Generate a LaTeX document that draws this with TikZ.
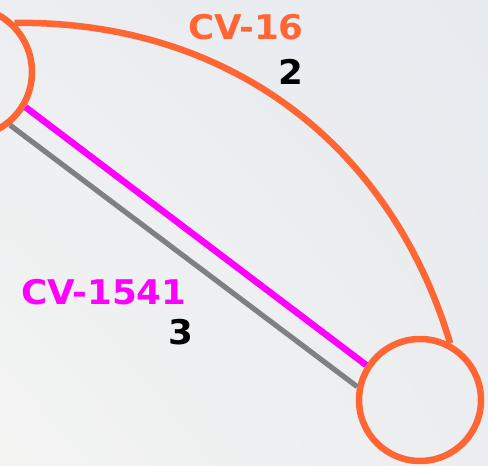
\documentclass[tikz,border=0pt]{standalone}
\usepackage{fontspec}
\newfontfamily\cvfont[FakeStretch=1.05]{DejaVu Sans}
\usetikzlibrary{shadings}

\definecolor{cvorange}{RGB}{255,102,51}
\definecolor{cvmagenta}{RGB}{255,0,255}
\definecolor{cvgray}{RGB}{128,128,128}
\definecolor{bgul}{RGB}{236,238,241}
\definecolor{bgur}{RGB}{231,234,239}
\definecolor{bgll}{RGB}{243,244,242}
\definecolor{bglr}{RGB}{235,237,240}

\begin{document}
\begin{tikzpicture}[x=1pt, y=1pt,
    station/.style={circle, draw=cvorange, line width=\w, inner sep=0pt, minimum size=#1},
    cvlabel/.style={font=\cvfont\bfseries\fontsize{34}{40}\selectfont, inner sep=0pt}]
    \def\w{6.5pt}
    \useasboundingbox (0,0) rectangle (488,466);
    \clip (0,0) rectangle (488,466);
    \shade[upper left=bgul, upper right=bgur, lower left=bgll, lower right=bglr] (0,0) rectangle (488,466);

    % the two stations
    \node[station=130pt] (west) at (-33,394) {};
    \node[station=122pt] (east) at (420,66) {};

    % routes
    \draw[cvorange, line width=\w] (west.46) to[bend left=37] (east.62);
    \draw[cvmagenta, line width=\w] (west.-31) -- (east.147);
    \draw[cvgray, line width=0.8*\w] (west.-51) -- (east.168);

    % labels
    \node[cvlabel, cvorange, anchor=base east] (cv16) at (304,426) {CV-16};
    \node[cvlabel, anchor=base east] (n2) at (304,381) {2};
    \node[cvlabel, cvmagenta, anchor=base west] (cv1541) at (21,161) {CV-1541};
    \node[cvlabel, anchor=base east] (n3) at (194,121) {3};
\end{tikzpicture}
\end{document}
